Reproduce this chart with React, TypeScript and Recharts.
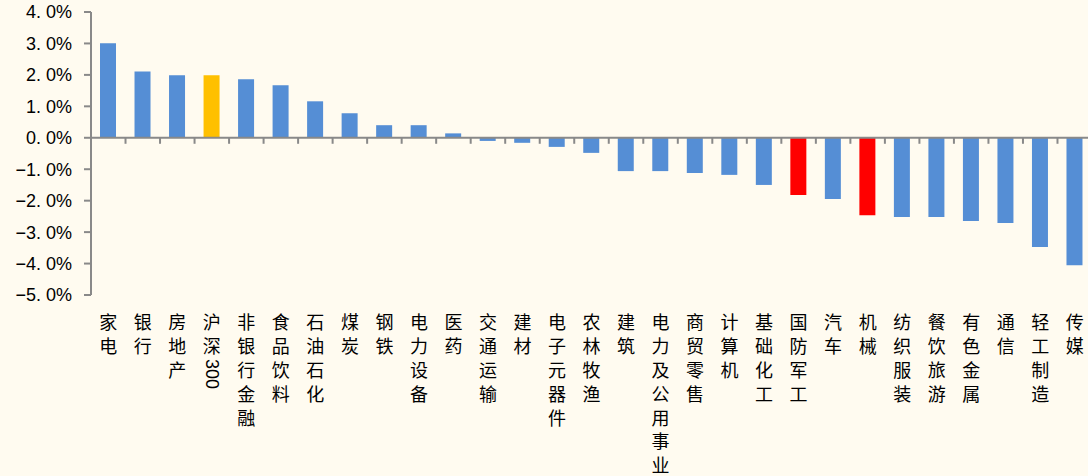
import { Bar, BarChart, Cell, ReferenceLine, XAxis, YAxis } from 'recharts'

const CATEGORIES = [
  '家电', '银行', '房地产', '沪深300', '非银行金融', '食品饮料', '石油石化', '煤炭', '钢铁', '电力设备',
  '医药', '交通运输', '建材', '电子元器件', '农林牧渔', '建筑', '电力及公用事业', '商贸零售', '计算机', '基础化工',
  '国防军工', '汽车', '机械', '纺织服装', '餐饮旅游', '有色金属', '通信', '轻工制造', '传媒',
]
const RETURNS = [
  3.01, 2.11, 1.99, 1.99, 1.86, 1.67, 1.16, 0.78, 0.4, 0.4,
  0.14, -0.1, -0.16, -0.29, -0.48, -1.06, -1.06, -1.12, -1.18, -1.5,
  -1.82, -1.95, -2.46, -2.52, -2.52, -2.65, -2.71, -3.47, -4.05,
]
const Y_TICKS = [4, 3, 2, 1, 0, -1, -2, -3, -4, -5]
const BENCHMARK = ['沪深300']
const HIGHLIGHT = ['国防军工', '机械']

const BLUE = '#558ED5'
const YELLOW = '#FFC000'
const RED = '#FF0000'
const AXIS = '#898989'
const BG = '#FFFBF0'

const W = 1100
const H = 476
const M = { top: 12, right: 8, left: 0, bottom: 0 }
const Y_AXIS_W = 91
const X_AXIS_H = 181
const PLOT_W = W - M.left - M.right - Y_AXIS_W
const PLOT_H = H - M.top - M.bottom - X_AXIS_H
const Y_MIN = -5
const Y_MAX = 4
const ZERO_Y = M.top + PLOT_H * (Y_MAX / (Y_MAX - Y_MIN))
const BAND = PLOT_W / CATEGORIES.length
const LABEL_TOP = M.top + PLOT_H + 14.5
const PITCH = 23.8

const data = CATEGORIES.map((name, i) => ({ name, value: RETURNS[i] }))

function fmt(v: number) {
  const s = Math.abs(v).toFixed(1).replace('.', '. ')
  return `${v < 0 ? '−' : ''}${s}%`
}

// vertical label: CJK chars stacked upright, digit runs turned sideways
function CategoryTick(props: any) {
  const { x, payload, index } = props
  const label: string = String(payload.value)
  const tokens = label.match(/[0-9A-Za-z]+|./g) || []
  let top = LABEL_TOP
  const els: any[] = []
  tokens.forEach((t, i) => {
    if (/^[0-9A-Za-z]+$/.test(t)) {
      els.push(
        <text key={i} transform={`translate(${x},${top + 2}) rotate(90)`} textAnchor="start" dominantBaseline="central"
          fontSize={18} fontFamily="Liberation Sans, Arial, sans-serif" fill="#000">{t}</text>,
      )
      top += t.length * 10.5 + 4
    } else {
      els.push(
        <text key={i} x={x} y={top + PITCH / 2} textAnchor="middle" dominantBaseline="central"
          fontSize={18} fontFamily="Noto Sans CJK SC, sans-serif" fill="#000">{t}</text>,
      )
      top += PITCH
    }
  })
  return (
    <g>
      {index > 0 && <line x1={x - BAND / 2} x2={x - BAND / 2} y1={ZERO_Y} y2={ZERO_Y + 6} stroke={AXIS} strokeWidth={2} />}
      {els}
    </g>
  )
}

export default function App() {
  return (
    <div style={{ position: 'absolute', left: 0, top: 0, width: 1088, height: 476, overflow: 'hidden', background: BG }}>
      <BarChart width={W} height={H} data={data} margin={M}>
        <XAxis dataKey="name" interval={0} height={X_AXIS_H} axisLine={false} tickLine={false} tick={<CategoryTick />} />
        <YAxis
          domain={[Y_MIN, Y_MAX]}
          ticks={Y_TICKS}
          width={Y_AXIS_W}
          interval={0}
          tickFormatter={fmt}
          axisLine={{ stroke: AXIS, strokeWidth: 2 }}
          tickLine={{ stroke: AXIS, strokeWidth: 2 }}
          tickSize={7}
          tickMargin={12}
          tick={{ fill: '#000', fontSize: 18, fontFamily: 'Liberation Sans, Arial, sans-serif' }}
        />
        <ReferenceLine y={0} stroke={AXIS} strokeWidth={2} />
        <Bar dataKey="value" barSize={16} isAnimationActive={false}>
          {data.map((d) => (
            <Cell key={d.name} fill={BENCHMARK.includes(d.name) ? YELLOW : HIGHLIGHT.includes(d.name) ? RED : BLUE} />
          ))}
        </Bar>
      </BarChart>
    </div>
  )
}
